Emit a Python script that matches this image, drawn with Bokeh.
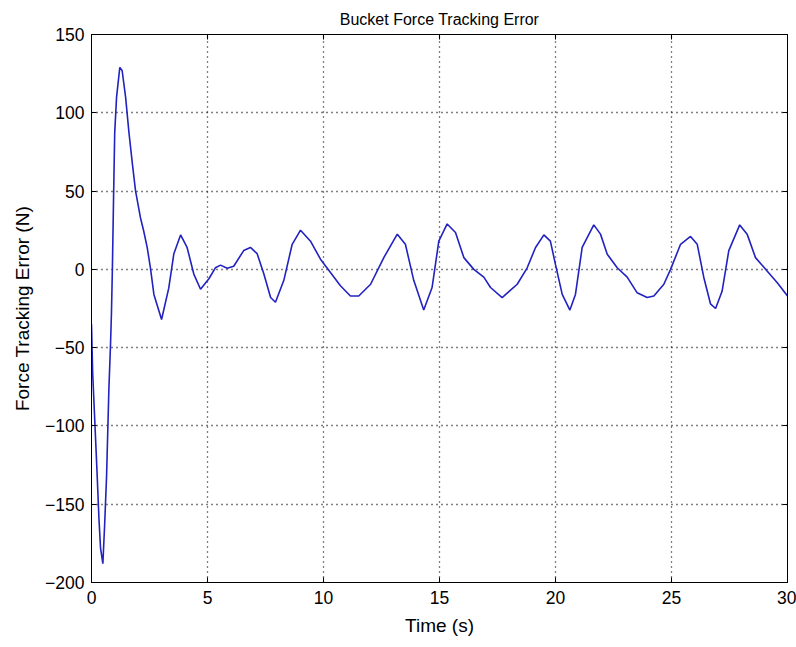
from bokeh.plotting import figure
from bokeh.models import LinearAxis, Range1d, FixedTicker
from bokeh.embed import file_html
from bokeh.resources import INLINE

time_s = [0, 0.05, 0.24, 0.32, 0.39, 0.49, 0.57, 0.65, 0.75, 0.82, 0.86, 0.90, 0.95, 1.0, 1.08,
          1.22, 1.32, 1.47, 1.61, 1.75, 1.90, 2.11, 2.25, 2.40, 2.54, 2.69, 3.02, 3.33, 3.55,
          3.84, 4.12, 4.41, 4.70, 5.06, 5.34, 5.56, 5.85, 6.13, 6.56, 6.85, 7.14, 7.43, 7.72,
          7.93, 8.29, 8.65, 9.01, 9.44, 9.87, 10.30, 10.73, 11.16, 11.52, 12.03, 12.6, 13.18,
          13.53, 13.89, 14.32, 14.68, 14.97, 15.33, 15.69, 16.05, 16.48, 16.91, 17.2, 17.7,
          18.35, 18.78, 19.14, 19.5, 19.78, 20.0, 20.29, 20.62, 20.86, 21.15, 21.65, 21.94,
          22.23, 22.66, 23.09, 23.52, 23.95, 24.24, 24.67, 24.96, 25.39, 25.82, 26.11, 26.39,
          26.68, 26.9, 27.18, 27.47, 27.94, 28.26, 28.62, 29.12, 29.56, 30.0]
force_err = [-35, -66, -130, -159, -178, -188, -162, -132, -76, -48, -28, 0, 45, 87, 110,
             129, 127, 110, 88, 69, 50, 33, 24.5, 14, 1, -16, -32, -12, 10,
             22, 14, -3, -12.7, -6, 1, 2.7, 0.7, 2, 12, 14, 10, -3, -18,
             -21, -7, 16, 25, 18, 6.5, -2, -10.5, -17, -17, -9.5, 7.5, 22.5,
             16, -7, -26, -11.6, 18, 29, 23.5, 7.5, 0, -5, -11.6, -18,
             -9.5, 1, 14, 22, 18, 3, -16, -26, -16, 14, 28.4, 22.5,
             9.7, 1, -5, -15, -18, -17, -9.5, 0, 16, 21, 16, -5,
             -22, -25, -14, 12, 28.4, 22.5, 7.5, -1, -8.5, -17]

x_ticks = [0, 5, 10, 15, 20, 25, 30]
y_ticks = [-200, -150, -100, -50, 0, 50, 100, 150]

FONT = "Liberation Sans"

p = figure(width=796, height=647, output_backend="svg", toolbar_location=None,
           x_range=Range1d(0, 30), y_range=Range1d(-200, 150),
           min_border_left=91, min_border_right=9, min_border_top=34, min_border_bottom=65,
           title="Bucket Force Tracking Error", x_axis_label="Time (s)",
           y_axis_label="Force Tracking Error (N)")

p.background_fill_color = "white"
p.border_fill_color = "white"
p.outline_line_color = "black"
p.outline_line_width = 1

p.title.align = "center"
p.title.text_font = FONT
p.title.text_font_size = "16px"
p.title.text_font_style = "normal"
p.title.text_color = "black"
p.title.standoff = 14

for ax in (p.xaxis[0], p.yaxis[0]):
    ax.major_label_text_font = FONT
    ax.major_label_text_font_size = "17.5px"
    ax.major_label_text_color = "black"
    ax.axis_label_text_font = FONT
    ax.axis_label_text_font_size = "19px"
    ax.axis_label_text_font_style = "normal"
    ax.axis_label_text_color = "black"
    ax.major_tick_in = 5
    ax.major_tick_out = 0
    ax.minor_tick_line_color = None
    ax.axis_line_color = "black"
    ax.major_tick_line_color = "black"

p.xaxis[0].ticker = FixedTicker(ticks=x_ticks)
p.yaxis[0].ticker = FixedTicker(ticks=y_ticks)
p.xaxis[0].major_label_standoff = 8
p.yaxis[0].major_label_standoff = 7
p.xaxis[0].axis_label_standoff = 8
p.yaxis[0].axis_label_standoff = 9

top_ax = LinearAxis(ticker=FixedTicker(ticks=x_ticks), major_label_text_font_size="0px",
                    major_tick_in=5, major_tick_out=0, minor_tick_line_color=None,
                    axis_line_color="black", major_label_text_color=None)
right_ax = LinearAxis(ticker=FixedTicker(ticks=y_ticks), major_label_text_font_size="0px",
                      major_tick_in=5, major_tick_out=0, minor_tick_line_color=None,
                      axis_line_color="black", major_label_text_color=None)
p.add_layout(top_ax, "above")
p.add_layout(right_ax, "right")

p.xgrid.ticker = FixedTicker(ticks=x_ticks)
p.ygrid.ticker = FixedTicker(ticks=y_ticks)
for g in (p.xgrid[0], p.ygrid[0]):
    g.grid_line_color = "black"
    g.grid_line_dash = "1 4"
    g.grid_line_width = 1.3

p.line(time_s, force_err, line_color="#2222c0", line_width=1.6)

open("out.html", "w").write(file_html(p, INLINE))
